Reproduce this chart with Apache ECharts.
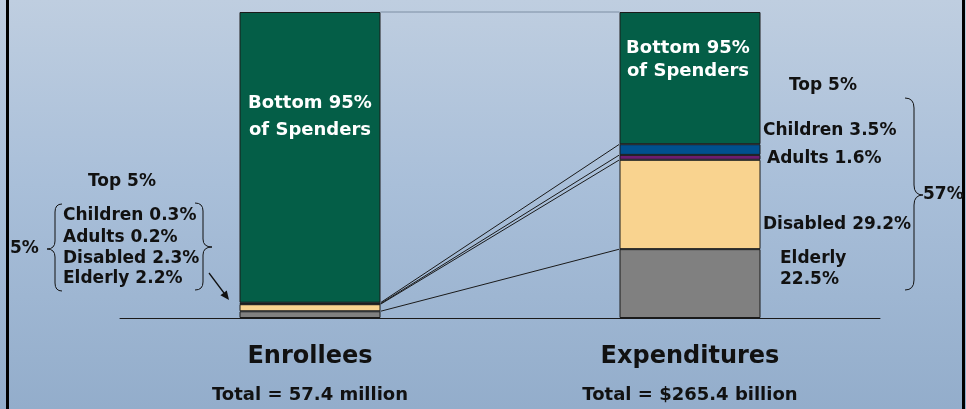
<!DOCTYPE html>
<html>
<head>
<meta charset="utf-8">
<script src="https://cdn.jsdelivr.net/npm/echarts@6/dist/echarts.min.js"></script>
<style>
  html, body { margin: 0; padding: 0; }
  #c { width: 966px; height: 409px; background: linear-gradient(to bottom, #bfcee0 0%, #a9bfd9 45%, #93adcb 100%); }
</style>
</head>
<body>
<div id="c"></div>
<script>
// ---- data ----
const categories = ['Enrollees', 'Expenditures'];
const totals = ['Total = 57.4 million', 'Total = $265.4 billion'];
const groups = ['Elderly', 'Disabled', 'Adults', 'Children'];
const elderly = [2.2, 22.5];
const disabled = [2.3, 29.2];
const adults = [0.2, 1.6];
const children = [0.3, 3.5];
const bottom95 = [95, 43.2];
const topShare = [5, 57];

// ---- build ----
const segs = [elderly, disabled, adults, children, bottom95];
const segNames = ['Elderly', 'Disabled', 'Adults', 'Children', 'Bottom 95% of Spenders'];
const segColors = ['#808080', '#f9d38f', '#6c1d70', '#00508e', '#045e47'];
const BW = 141;
const FONT = 'DejaVu Sans';

const connectors = [];
let cl = 0, cr = 0;
segs.forEach(s => { cl += s[0]; cr += s[1]; connectors.push([0, Math.round(cl * 10) / 10, Math.round(cr * 10) / 10]); });

const series = segs.map((s, i) => ({
  name: segNames[i],
  type: 'bar',
  stack: 'all',
  barWidth: BW,
  data: s,
  itemStyle: { color: segColors[i], borderColor: '#1a1a1a', borderWidth: 1 },
  silent: true
}));

series.push({
  type: 'custom',
  silent: true,
  data: connectors,
  encode: { x: 0, y: 1 },
  z: 1,
  renderItem: function (params, api) {
    const p0 = api.coord([0, api.value(1)]);
    const p1 = api.coord([1, api.value(2)]);
    const isTop = api.value(1) >= 99.9;
    return {
      type: 'line',
      shape: { x1: p0[0] + BW / 2, y1: p0[1], x2: p1[0] - BW / 2, y2: p1[1] },
      style: { stroke: isTop ? '#7d8ea3' : '#1a1a1a', lineWidth: 1 }
    };
  }
});

function txt(text, x, y, opts) {
  opts = opts || {};
  return {
    type: 'text', z: 100, silent: true,
    style: {
      text: text, x: x, y: y,
      font: 'bold ' + (opts.size || 17) + 'px "' + FONT + '"',
      fill: opts.fill || '#111',
      align: opts.align || 'left',
      verticalAlign: 'middle'
    }
  };
}
function lbl(i, k) { return groups[i] + ' ' + [elderly, disabled, adults, children][i][k] + '%'; }

const LS = { stroke: '#111', lineWidth: 1, fill: null };
function qb(x1, y1, cx, cy, x2, y2) {
  return { type: 'bezierCurve', silent: true, shape: { x1: x1, y1: y1, x2: x2, y2: y2, cpx1: cx, cpy1: cy }, style: LS };
}
function ln(x1, y1, x2, y2) {
  return { type: 'line', silent: true, shape: { x1: x1, y1: y1, x2: x2, y2: y2 }, style: LS };
}
function brace(xEnd, xMid, xTip, yTop, yTip, yBot, r) {
  return [
    qb(xEnd, yTop, xMid, yTop, xMid, yTop + r),
    ln(xMid, yTop + r, xMid, yTip - r),
    qb(xMid, yTip - r, xMid, yTip, xTip, yTip),
    qb(xTip, yTip, xMid, yTip, xMid, yTip + r),
    ln(xMid, yTip + r, xMid, yBot - r),
    qb(xMid, yBot - r, xMid, yBot, xEnd, yBot)
  ];
}

const graphics = [
  { type: 'rect', silent: true, shape: { x: 6, y: 0, width: 3, height: 409 }, style: { fill: '#000' } },
  { type: 'rect', silent: true, shape: { x: 962, y: 0, width: 3, height: 409 }, style: { fill: '#000' } },
  txt('Bottom 95%', 310, 103, { size: 18, fill: '#fff', align: 'center' }),
  txt('of Spenders', 310, 130, { size: 18, fill: '#fff', align: 'center' }),
  txt('Bottom 95%', 688, 48, { size: 18, fill: '#fff', align: 'center' }),
  txt('of Spenders', 688, 71, { size: 18, fill: '#fff', align: 'center' }),
  txt('Top ' + topShare[0] + '%', 122, 182, { align: 'center' }),
  txt(lbl(3, 0), 63, 216),
  txt(lbl(2, 0), 63, 238),
  txt(lbl(1, 0), 63, 259),
  txt(lbl(0, 0), 63, 279),
  txt(topShare[0] + '%', 10, 249),
  txt('Top ' + topShare[0] + '%', 789, 86),
  txt(lbl(3, 1), 763, 131),
  txt(lbl(2, 1), 767, 159),
  txt(lbl(1, 1), 763, 225),
  txt(groups[0], 780, 259),
  txt(elderly[1] + '%', 780, 280),
  txt(topShare[1] + '%', 923, 195)
]
  .concat(brace(62, 55, 47, 204, 249, 291, 8))
  .concat(brace(195, 203, 212, 203, 247, 290, 8))
  .concat(brace(905, 914, 923, 98, 195, 290, 10))
  .concat([
    { type: 'line', silent: true, shape: { x1: 209, y1: 273, x2: 224, y2: 293 }, style: { stroke: '#111', lineWidth: 1.3 } },
    { type: 'polygon', silent: true, shape: { points: [[229, 300], [220.4, 295.2], [226.8, 290.4]] }, style: { fill: '#111' } }
  ]);

const chart = echarts.init(document.getElementById('c'), null, { renderer: 'canvas' });
chart.setOption({
  backgroundColor: 'transparent',
  animation: false,
  grid: { left: 120, width: 760, top: 12, height: 306 },
  xAxis: {
    type: 'category',
    data: categories,
    axisLine: { lineStyle: { color: '#1a1a1a', width: 1 } },
    axisTick: { show: false },
    axisLabel: {
      margin: 21,
      interval: 0,
      formatter: function (v, i) { return '{a|' + v + '}\n{b|' + totals[i] + '}'; },
      rich: {
        a: { fontFamily: FONT, fontWeight: 'bold', fontSize: 24, lineHeight: 36, color: '#111' },
        b: { fontFamily: FONT, fontWeight: 'bold', fontSize: 18, lineHeight: 40, color: '#111' }
      }
    }
  },
  yAxis: { type: 'value', min: 0, max: 100, show: false, splitLine: { show: false } },
  series: series,
  graphic: graphics
});
</script>
</body>
</html>
